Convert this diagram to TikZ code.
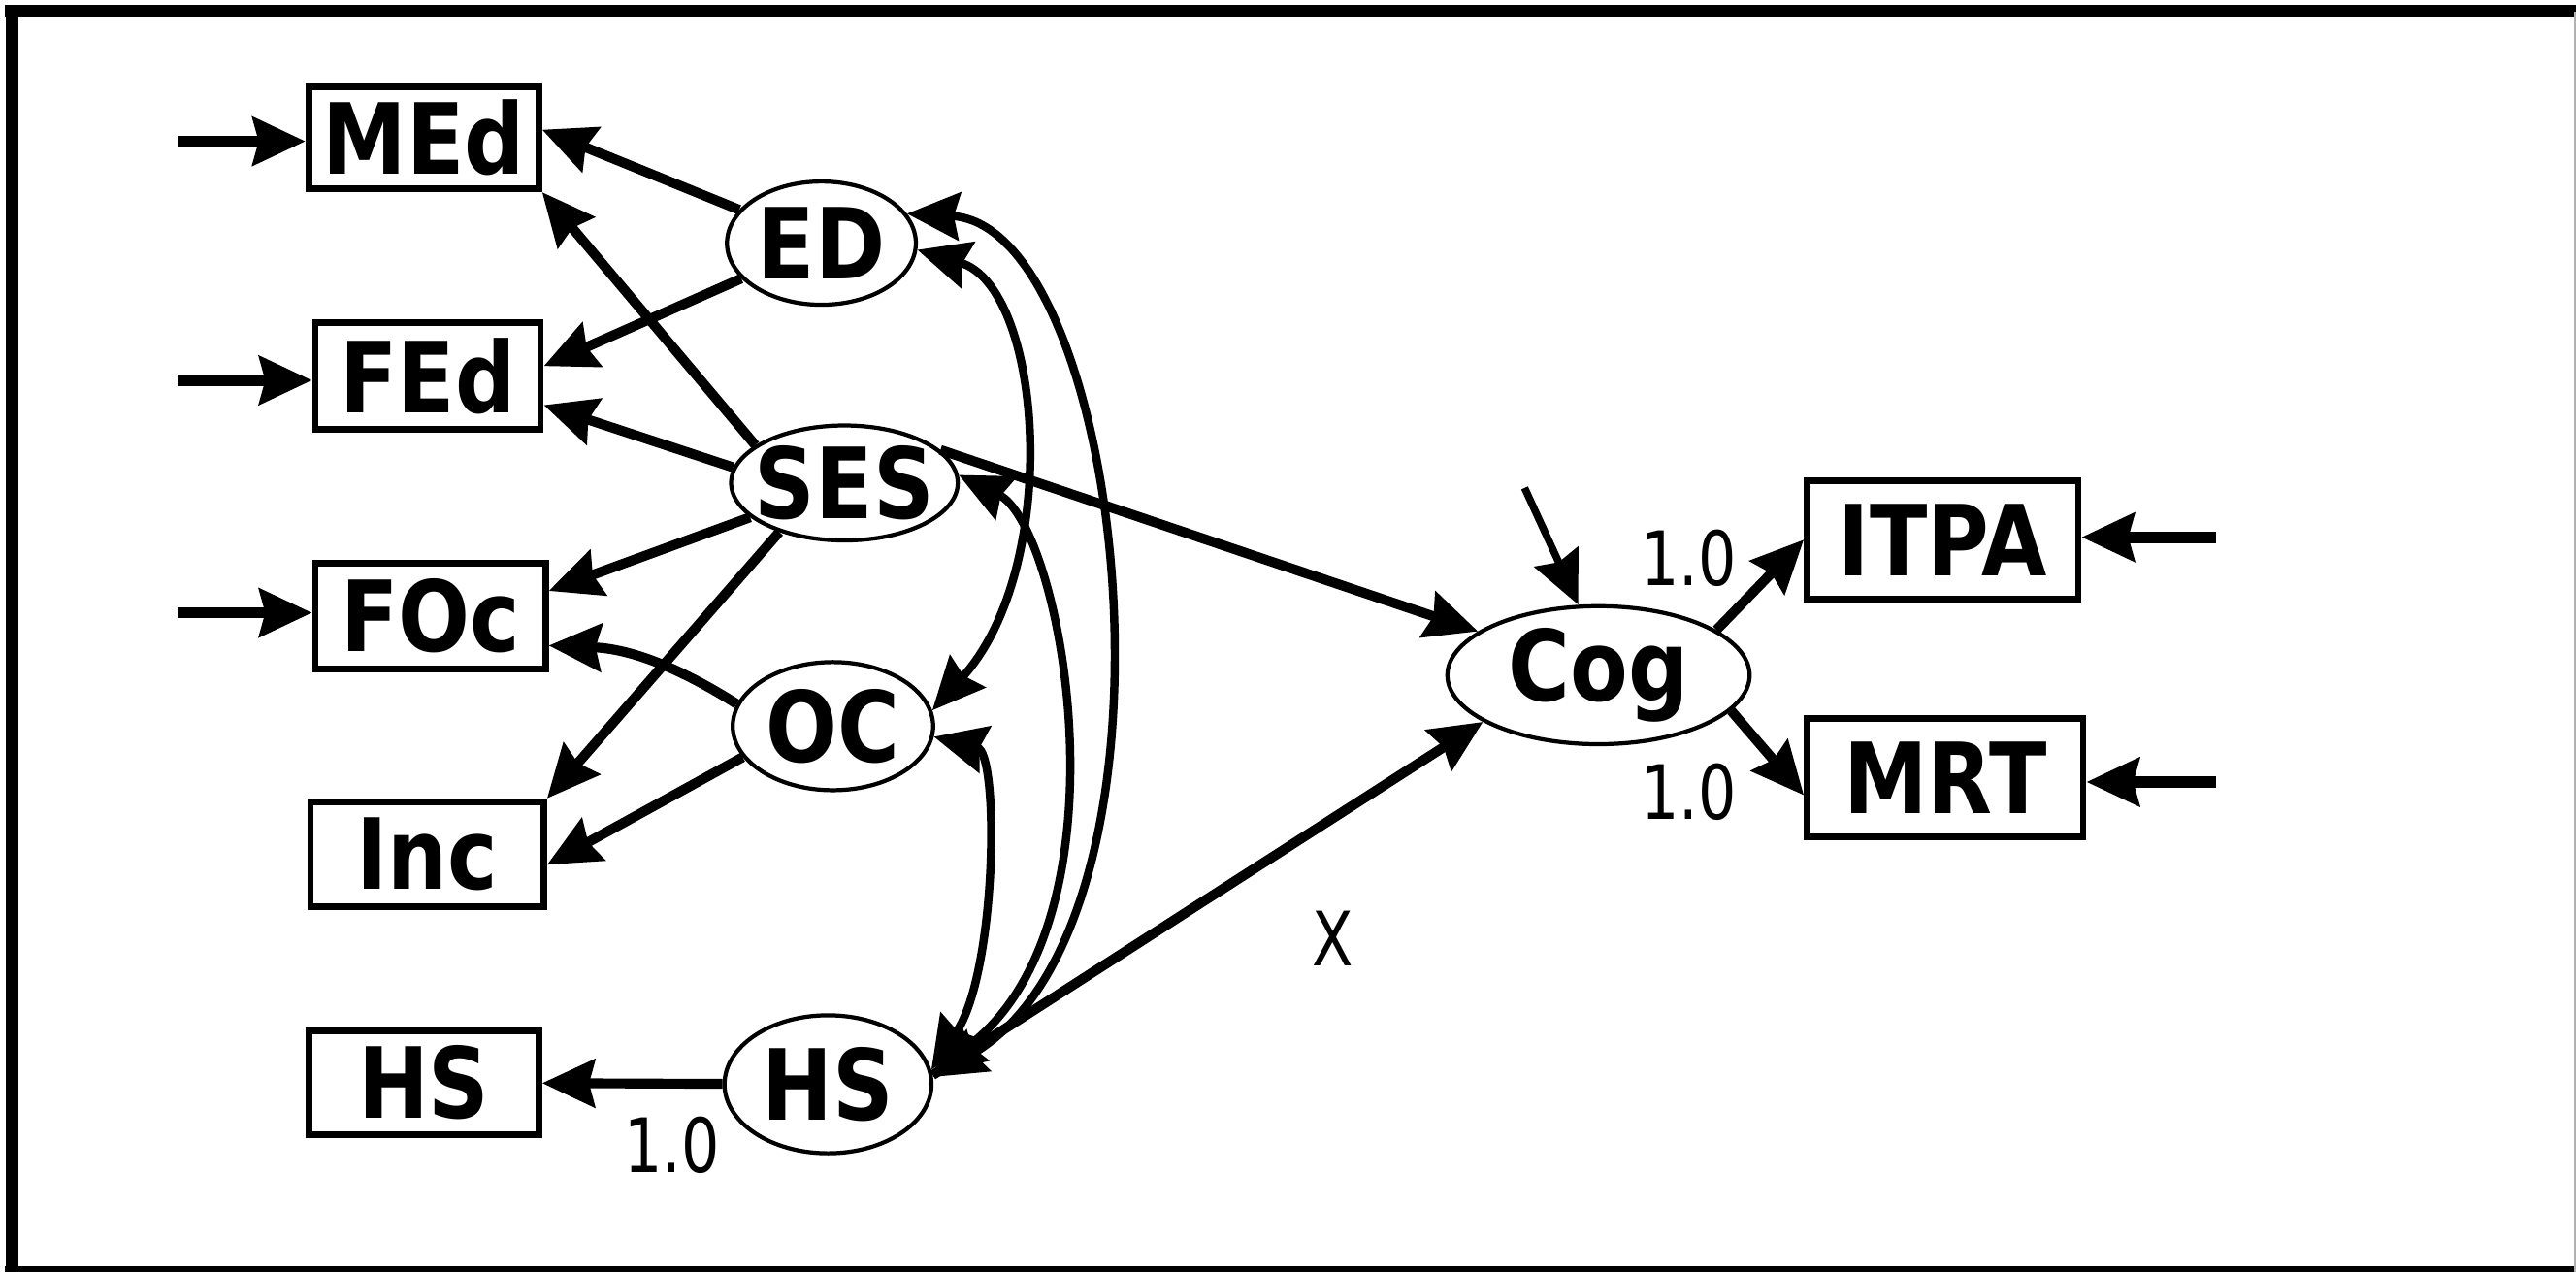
\documentclass[tikz,border=0pt]{standalone}
\usepackage{fontspec}
\newfontfamily\labfont{DejaVu Sans}[FakeStretch=0.86]
\newfontfamily\numfont{DejaVu Sans}[FakeStretch=0.8]
\usetikzlibrary{shapes.geometric,arrows.meta}
\begin{document}
\begin{tikzpicture}[x=0.1mm,y=-0.1mm,
  >={Stealth[length=3.2mm,width=2.9mm,inset=0.35mm]},
  box/.style={draw, rectangle, line width=0.4mm, inner sep=0pt,
    font={\labfont\bfseries\fontsize{17pt}{17pt}\selectfont}},
  lat/.style={draw, ellipse, line width=0.25mm, inner sep=0pt,
    font={\labfont\bfseries\fontsize{17pt}{17pt}\selectfont}},
  arr/.style={->, line width=0.6mm},
  inarr/.style={->, line width=0.7mm},
  cov/.style={<->, line width=0.5mm},
  num/.style={inner sep=0pt, font={\numfont\fontsize{13pt}{13pt}\selectfont}}]
\useasboundingbox (0,0) rectangle (1568,774);
% frame
\draw[line width=0.75mm] (7.5,3) -- (7.5,774);
\draw[line width=0.75mm] (3,7) -- (1568,7);
\draw[line width=0.35mm] (3,772.5) -- (1568,772.5);
\draw[line width=0.1mm, black!30] (1567.4,7) -- (1567.4,774);
% observed boxes
\node[box, minimum width=14mm, minimum height=6.2mm] (MEd) at (258,84) {MEd};
\node[box, minimum width=13.7mm, minimum height=6.5mm] (FEd) at (260.5,229) {FEd};
\node[box, minimum width=14mm, minimum height=6.4mm] (FOc) at (262,375) {FOc};
\node[box, minimum width=14.2mm, minimum height=6.4mm] (Inc) at (260,520) {Inc};
\node[box, minimum width=14mm, minimum height=6.3mm] (HSo) at (258,659) {HS};
\node[box, minimum width=16.5mm, minimum height=7.2mm] (ITPA) at (1182.5,328.5) {ITPA};
\node[box, minimum width=16.8mm, minimum height=7.2mm] (MRT) at (1184,473.5) {MRT};
% latent ellipses
\node[lat, minimum width=11.5mm, minimum height=7.5mm] (ED) at (500,148) {\makebox[0pt]{ED}};
\node[lat, minimum width=13.8mm, minimum height=7.0mm] (SES) at (514,294) {\makebox[0pt]{SES}};
\node[lat, minimum width=12.2mm, minimum height=7.8mm] (OC) at (507,442) {\makebox[0pt]{OC}};
\node[lat, minimum width=12.6mm, minimum height=8.4mm] (HSl) at (504,660) {\makebox[0pt]{HS}};
\node[lat, minimum width=18.4mm, minimum height=8.4mm] (Cog) at (973,411) {\makebox[0pt]{Cog}};
% free ends
\coordinate (iM) at (108,86);
\coordinate (iF) at (108,231.5);
\coordinate (iO) at (108,373);
\coordinate (iI) at (1349,327);
\coordinate (iR) at (1349,476);
\coordinate (cE) at (928,297);
% input (error) arrows
\draw[inarr] (iM) -- (iM -| MEd.west);
\draw[inarr] (iF) -- (iF -| FEd.west);
\draw[inarr] (iO) -- (iO -| FOc.west);
\draw[inarr] (iI) -- (iI -| ITPA.east);
\draw[inarr] (iR) -- (iR -| MRT.east);
\draw[->, line width=0.45mm] (cE) -- (Cog.106);
% loadings
\draw[arr] (ED) -- (MEd.4);
\draw[arr] (ED) -- (FEd.5);
\draw[arr] (SES.157) -- (MEd.south east);
\draw[arr] (SES.172) -- (FEd.346);
\draw[arr] (SES.200) -- (FOc.12);
\draw[arr] (SES.217) -- (Inc.north east);
\draw[arr] (OC.167) to[bend right=15] (FOc.346);
\draw[arr] (OC.199) -- (Inc.355);
\draw[arr] (HSl) -- (HSo);
\draw[arr] (SES.19) -- (Cog.160);
\draw[arr] (HSl.5) -- (Cog.202);
\draw[arr] (Cog.21) -- (ITPA.west);
\draw[arr] (Cog.345) -- (MRT.187);
% covariances
\draw[cov] (ED.356) .. controls +(77,23) and +(79,-87) .. (OC.9);
\draw[cov] (ED.19) .. controls +(133,7) and +(163,-95) .. (HSl.4);
\draw[cov] (SES.4) .. controls +(63,31) and +(123,-93) .. (HSl.6);
\draw[cov] (OC.354) .. controls +(40,10) and +(40,-60) .. (HSl.8);
% labels
\node[num] (l1) at (409,697) {1.0};
\node[num] (l2) at (1028,340) {1.0};
\node[num] (l3) at (1028,482) {1.0};
\node[num] (lx) at (811,571) {X};
\end{tikzpicture}
\end{document}
